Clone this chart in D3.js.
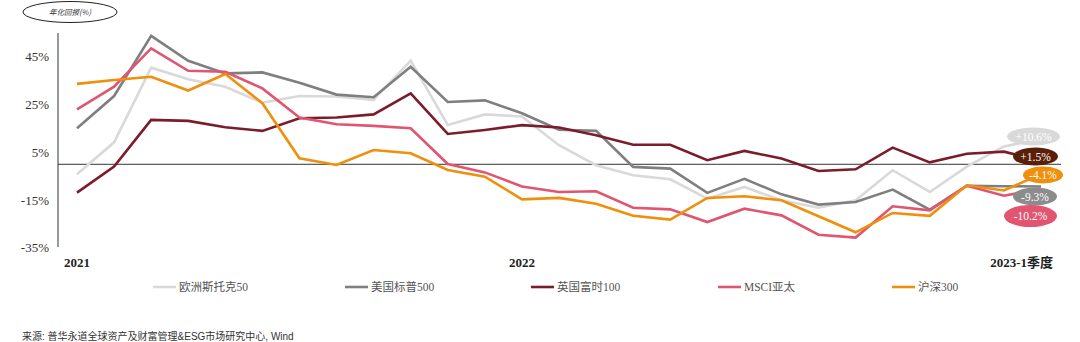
<!DOCTYPE html>
<html><head><meta charset="utf-8">
<script src="https://cdn.jsdelivr.net/npm/d3@7/dist/d3.min.js"></script>
<style>body{margin:0;background:#fff;} svg{display:block;}</style>
</head><body><svg id="c" width="1080" height="342"></svg>
<script>
const months = ["2021-01","2021-02","2021-03","2021-04","2021-05","2021-06","2021-07","2021-08","2021-09","2021-10","2021-11","2021-12",
"2022-01","2022-02","2022-03","2022-04","2022-05","2022-06","2022-07","2022-08","2022-09","2022-10","2022-11","2022-12",
"2023-01","2023-02","2023-03"];
const seriesNames = ["欧洲斯托克50","美国标普500","英国富时100","MSCI亚太","沪深300"];
const stoxx50 = [-4.2,9.2,40.5,35.6,32.5,25.8,28.6,28.4,27.0,43.4,16.5,20.9,20.0,8.0,-0.4,-4.6,-6.3,-14.4,-9.5,-15.1,-18.2,-15.1,-2.5,-11.6,-1.0,7.5,10.6];
const sp500 = [15.1,28.6,53.8,43.4,38.1,38.5,34.2,29.2,28.1,40.9,26.1,26.8,21.4,14.5,14.0,-1.1,-1.8,-12.0,-6.1,-12.6,-16.9,-15.8,-10.6,-19.0,-9.0,-9.2,-9.3];
const ftse100 = [-11.9,-1.0,18.6,18.2,15.5,14.0,19.3,19.6,20.9,29.7,12.7,14.4,16.4,15.4,12.2,8.2,8.2,1.7,5.6,2.4,-2.8,-2.1,7.0,0.8,4.4,5.3,1.5];
const msciAP = [23.0,32.5,48.6,39.2,38.8,31.8,19.6,16.8,16.1,15.1,0.1,-3.4,-9.3,-11.6,-11.3,-18.2,-18.9,-24.2,-18.6,-21.4,-29.5,-30.7,-17.6,-19.3,-9.0,-13.2,-10.2];
const csi300 = [33.7,35.3,36.7,30.9,37.8,25.6,2.5,-0.3,6.0,4.6,-2.4,-5.2,-14.7,-14.1,-16.5,-21.6,-23.2,-14.1,-13.4,-15.1,-21.8,-28.5,-20.4,-21.6,-8.8,-11.0,-4.1];
const yTicks = [45,25,5,-15,-35];
const xTickLabels = [{i:0,t:"2021"},{i:12,t:"2022"},{i:26,t:"2023-1季度"}];
const endLabels = ["+10.6%","-9.3%","+1.5%","-10.2%","-4.1%"];
const yAxisTitle = "年化回报(%)";
const source = "来源: 普华永道全球资产及财富管理&ESG市场研究中心, Wind";

const lineColors = ["#d9d9d9","#7f7f7f","#7b1c2c","#e05570","#ef8f0b"];
const bubbleColors = ["#d9d9d9","#8c8c8c","#5a1f08","#e05570","#ef8f0b"];
const data = [stoxx50, sp500, ftse100, msciAP, csi300];

const svg = d3.select("#c");
const x = d3.scaleLinear().domain([0, months.length-1]).range([77, 1041]);
const y = d3.scaleLinear().domain([-35,45]).range([247.8, 56.9]);
const serif = "'Liberation Serif','DejaVu Serif',serif";

svg.append("line").attr("x1",58).attr("x2",58).attr("y1",33).attr("y2",247).attr("stroke","#333").attr("stroke-width",1);
svg.append("line").attr("x1",58).attr("x2",1061).attr("y1",y(0)).attr("y2",y(0)).attr("stroke","#333").attr("stroke-width",1);

svg.selectAll(".yt").data(yTicks).enter().append("text")
  .attr("x",49).attr("y",d=>y(d)).attr("dy","0.35em").attr("text-anchor","end")
  .attr("font-family",serif).attr("font-size",13).attr("fill","#333").text(d=>d+"%");

svg.selectAll(".xt").data(xTickLabels).enter().append("text")
  .attr("x",d=> d.i===26 ? x(d.i)+12 : x(d.i)).attr("y",262).attr("dy","0.35em")
  .attr("text-anchor",d=> d.i===26 ? "end" : "middle")
  .attr("font-family","'Liberation Serif','Noto Sans CJK SC',serif").attr("font-size",13).attr("font-weight","bold").attr("fill","#222").text(d=>d.t);

const line = d3.line().x((d,i)=>x(i)).y(d=>y(d));
svg.selectAll(".ln").data(data).enter().append("path")
  .attr("d",d=>line(d)).attr("fill","none").attr("stroke",(d,i)=>lineColors[i])
  .attr("stroke-width",2.6).attr("stroke-linejoin","miter");

const bubbles = [
  {s:0, cx:1033.5, cy:136.5, rx:26.5, ry:9},
  {s:2, cx:1035.5, cy:156.5, rx:22.5, ry:9},
  {s:4, cx:1043, cy:175, rx:20, ry:8.5},
  {s:1, cx:1035, cy:196.5, rx:22, ry:9},
  {s:3, cx:1030.5, cy:216, rx:26.5, ry:11}
];
const bg = svg.selectAll(".bb").data(bubbles).enter().append("g");
bg.append("ellipse").attr("cx",d=>d.cx).attr("cy",d=>d.cy).attr("rx",d=>d.rx).attr("ry",d=>d.ry).attr("fill",d=>bubbleColors[d.s]);
bg.append("text").attr("x",d=>d.cx).attr("y",d=>d.cy).attr("dy","0.35em").attr("text-anchor","middle")
  .attr("font-family",serif).attr("font-size",11.5).attr("fill","#fff").text(d=>endLabels[d.s]);

svg.append("ellipse").attr("cx",70).attr("cy",12).attr("rx",47).attr("ry",10.5).attr("fill","#fff").attr("stroke","#222").attr("stroke-width",1);
svg.append("text").attr("x",70).attr("y",12).attr("dy","0.35em").attr("text-anchor","middle")
  .attr("font-family","'Noto Sans CJK SC',sans-serif").attr("font-style","italic").attr("font-size",7.5).attr("fill","#333").text(yAxisTitle);

const legX = [153,345,531,718,892];
const lg = svg.selectAll(".lg").data(seriesNames).enter().append("g").attr("transform",(d,i)=>`translate(${legX[i]},287)`);
lg.append("line").attr("x1",0).attr("x2",23).attr("y1",0).attr("y2",0).attr("stroke",(d,i)=>lineColors[i]).attr("stroke-width",2.6);
lg.append("text").attr("x",26).attr("y",0).attr("dy","0.35em").attr("font-family","'Liberation Serif','Noto Sans CJK SC',serif")
  .attr("font-size",11.5).attr("fill","#555").text(d=>d);

svg.append("text").attr("x",22).attr("y",336).attr("dy","0.35em").attr("font-family","'Liberation Sans','Noto Sans CJK SC',sans-serif")
  .attr("font-size",10).attr("fill","#333").text(source);
</script></body></html>
